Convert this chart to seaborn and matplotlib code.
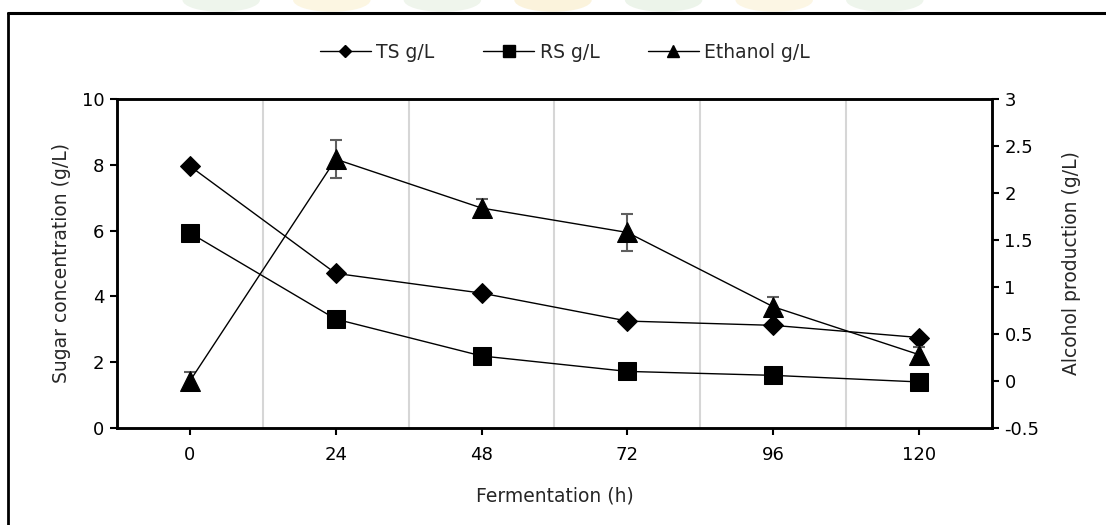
import numpy as np
import pandas as pd
import matplotlib
matplotlib.use("Agg")
import matplotlib.pyplot as plt
from matplotlib.lines import Line2D
from matplotlib.patches import Ellipse
import seaborn as sns

# Fermentation time points (h)
hours = ["0", "24", "48", "72", "96", "120"]

# Total sugar and reducing sugar (g/L), left axis
ts_gl = [7.96, 4.70, 4.10, 3.25, 3.12, 2.75]
rs_gl = [5.93, 3.31, 2.19, 1.72, 1.60, 1.40]

# Ethanol (g/L), right axis, with standard deviation
ethanol_gl = [0.00, 2.36, 1.84, 1.58, 0.79, 0.28]
ethanol_sd = [0.10, 0.20, 0.10, 0.20, 0.10, 0.08]

sns.set_theme(style="white")
plt.rcParams["font.family"] = ["DejaVu Sans"]

W, H = 1106, 525
fig = plt.figure(figsize=(W / 100, H / 100), dpi=100)
ax = fig.add_axes([117 / W, 1 - 428 / H, (992 - 117) / W, (428 - 99) / H])
ax2 = ax.twinx()

pos = np.arange(len(hours))
df = pd.DataFrame({"pos": pos, "TS": ts_gl, "RS": rs_gl, "EtOH": ethanol_gl})

line_kw = dict(color="black", linewidth=1.0, markeredgecolor="black")
sns.lineplot(data=df, x="pos", y="TS", ax=ax, marker="D", markersize=10.5, zorder=3, **line_kw)
sns.lineplot(data=df, x="pos", y="RS", ax=ax, marker="s", markersize=13, zorder=3, **line_kw)
ax2.errorbar(pos, ethanol_gl, yerr=ethanol_sd, fmt="none", ecolor="#5f5f5f",
             elinewidth=1.5, capsize=4.5, capthick=1.5, zorder=2)
sns.lineplot(data=df, x="pos", y="EtOH", ax=ax2, marker="^", markersize=14, zorder=3, **line_kw)

# Axes ranges and ticks
ax.set_xlim(-0.5, len(hours) - 0.5)
ax.set_ylim(0, 10)
ax.set_yticks(np.arange(0, 11, 2))
ax2.set_ylim(-0.5, 3)
ax2.set_yticks(np.arange(-0.5, 3.01, 0.5))
ax2.set_yticklabels(["-0.5", "0", "0.5", "1", "1.5", "2", "2.5", "3"])
ax.set_xticks(pos)
ax.set_xticklabels(hours)
ax.set_xticks(pos[:-1] + 0.5, minor=True)
ax.grid(False)
ax2.grid(False)
ax.grid(True, which="minor", axis="x", color="#d6d6d6", linewidth=1.5)
ax.set_axisbelow(True)

for a in (ax, ax2):
    for sp in a.spines.values():
        sp.set_color("black")
        sp.set_linewidth(1.8)
    a.tick_params(axis="both", which="major", direction="out", length=5, width=1.5,
                  color="black", labelsize=13, labelcolor="black")
    a.tick_params(axis="x", which="minor", length=0)
ax.tick_params(axis="x", pad=8, bottom=True)
ax.tick_params(axis="y", left=True, pad=4)
ax2.tick_params(axis="y", right=True, pad=4)

ax.set_xlabel("Fermentation (h)", fontsize=13.5, labelpad=16)
ax.set_ylabel("Sugar concentration (g/L)", fontsize=13.5, labelpad=8)
ax2.set_ylabel("Alcohol production (g/L)", fontsize=13.5, labelpad=16)

# Legend above the plot area
handles = [
    Line2D([], [], color="black", linewidth=1.0, marker="D", markersize=6),
    Line2D([], [], color="black", linewidth=1.0, marker="s", markersize=8),
    Line2D([], [], color="black", linewidth=1.0, marker="^", markersize=8),
]
fig.legend(handles, ["TS g/L", "RS g/L", "Ethanol g/L"], loc="center",
           bbox_to_anchor=(565 / W, 1 - 52 / H), ncol=3, frameon=False,
           fontsize=13.5, handlelength=2.7, handletextpad=0.3, columnspacing=2.6)

# Faint decorative band along the top edge
band_colors = ["#eef5ec", "#fcf6e2", "#eff5ec", "#fbf3dc", "#ecf4ea", "#fcf6e4", "#eef5ec"]
for i, c in enumerate(band_colors):
    e = Ellipse((0.2 + i * 0.1, 1.0), 0.07, 0.045, transform=fig.transFigure,
                facecolor=c, edgecolor="none", zorder=0)
    fig.add_artist(e)

# Outer frame lines
fig.add_artist(Line2D([8 / W, 1.0], [1 - 13 / H, 1 - 13 / H], transform=fig.transFigure,
                      color="black", linewidth=2.2))
fig.add_artist(Line2D([8 / W, 8 / W], [0.0, 1 - 13 / H], transform=fig.transFigure,
                      color="black", linewidth=2.0))

fig.savefig("out.png", dpi=100, facecolor="white")
